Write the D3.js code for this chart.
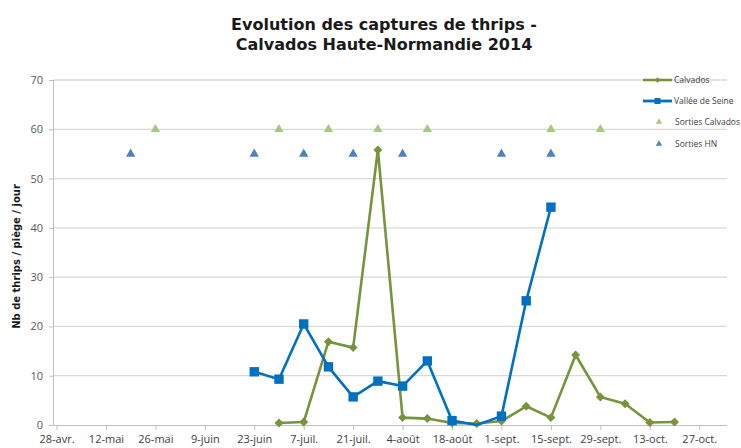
<!DOCTYPE html>
<html><head><meta charset="utf-8">
<script src="https://cdn.jsdelivr.net/npm/d3@7/dist/d3.min.js"></script>
<style>body{margin:0;background:#fff;} svg{display:block;}</style>
</head><body>
<script>
// ---- data ----
const tickDates = ["2014-04-28","2014-05-12","2014-05-26","2014-06-09","2014-06-23","2014-07-07","2014-07-21","2014-08-04","2014-08-18","2014-09-01","2014-09-15","2014-09-29","2014-10-13","2014-10-27"];
const tickLabels = ["28-avr.","12-mai","26-mai","9-juin","23-juin","7-juil.","21-juil.","4-août","18-août","1-sept.","15-sept.","29-sept.","13-oct.","27-oct."];
const yTicks = [0,10,20,30,40,50,60,70];

const calvadosDates = ["2014-06-30","2014-07-07","2014-07-14","2014-07-21","2014-07-28","2014-08-04","2014-08-11","2014-08-18","2014-08-25","2014-09-01","2014-09-08","2014-09-15","2014-09-22","2014-09-29","2014-10-06","2014-10-13","2014-10-20"];
const calvadosValues = [0.4,0.6,16.9,15.7,55.8,1.5,1.3,0.4,0.3,0.8,3.8,1.5,14.2,5.7,4.3,0.5,0.6];

const seineDates = ["2014-06-23","2014-06-30","2014-07-07","2014-07-14","2014-07-21","2014-07-28","2014-08-04","2014-08-11","2014-08-18","2014-08-25","2014-09-01","2014-09-08","2014-09-15"];
const seineValues = [10.8,9.3,20.5,11.8,5.7,8.9,7.9,13.0,0.9,0,1.8,25.2,44.2];

const sortiesCalvadosDates = ["2014-05-26","2014-06-30","2014-07-14","2014-07-28","2014-08-11","2014-09-15","2014-09-29"];
const sortiesCalvadosValues = [60,60,60,60,60,60,60];

const sortiesHNDates = ["2014-05-19","2014-06-23","2014-07-07","2014-07-21","2014-08-04","2014-09-01","2014-09-15"];
const sortiesHNValues = [55,55,55,55,55,55,55];

const titleLines = ["Evolution des captures de thrips -","Calvados Haute-Normandie 2014"];
const yTitle = "Nb de thrips / piège / jour";
const legendNames = ["Calvados","Vallée de Seine","Sorties Calvados","Sorties HN"];

// ---- drawing ----
const W = 741, H = 448;
const parse = d3.utcParse("%Y-%m-%d");
const cGreen = "#77933C", cBlue = "#0070C0", cLightGreen = "#A9C77E", cTriBlue = "#4F81BD";

const svg = d3.select("body").append("svg").attr("width", W).attr("height", H);

const plotLeft = 54, plotRight = 727, plotTop = 80, plotBottom = 425;
const x = d3.scaleUtc().domain([parse("2014-04-28"), parse("2014-11-04")]).range([56.5, 727.5]);
const y = d3.scaleLinear().domain([0,70]).range([plotBottom, plotTop]);

// gridlines
svg.append("g").selectAll("line").data(yTicks.filter(v => v > 0)).join("line")
  .attr("x1", plotLeft).attr("x2", plotRight)
  .attr("y1", d => y(d)).attr("y2", d => y(d))
  .attr("stroke", "#d9d9d9").attr("stroke-width", 1.3);

// y axis
const yAxis = d3.axisLeft(y).tickValues(yTicks).tickSize(5).tickPadding(6).tickFormat(d3.format("d"));
const gy = svg.append("g").attr("transform", `translate(${plotLeft},0)`).call(yAxis);
gy.select(".domain").attr("stroke", "#bfbfbf").attr("d", `M-0.5,${plotTop}V${plotBottom}`);
gy.selectAll(".tick line").attr("stroke", "#bfbfbf");
gy.selectAll(".tick text").attr("fill", "#595959").style("font-family", "'Open Sans', sans-serif").style("font-size", "11px");

// x axis
const xAxis = d3.axisBottom(x).tickValues(tickDates.map(parse)).tickSize(5).tickPadding(5)
  .tickFormat((d,i) => tickLabels[i]);
const gx = svg.append("g").attr("transform", `translate(0,${plotBottom})`).call(xAxis);
gx.select(".domain").attr("stroke", "#bfbfbf").attr("d", `M${plotLeft},0.5H${plotRight}`);
gx.selectAll(".tick line").attr("stroke", "#bfbfbf");
gx.selectAll(".tick text").attr("fill", "#404040").style("font-family", "'Open Sans', sans-serif").style("font-size", "11px");

// series
const calv = calvadosDates.map((d,i) => ({d: parse(d), v: calvadosValues[i]}));
const seine = seineDates.map((d,i) => ({d: parse(d), v: seineValues[i]}));
const line = d3.line().x(p => x(p.d)).y(p => y(p.v));

const diamond = d3.symbol().type(d3.symbolSquare).size(40);
const square = d3.symbol().type(d3.symbolSquare).size(88);
const tri = d3.symbol().type(d3.symbolTriangle).size(38);

// sorties triangles
svg.append("g").selectAll("path").data(sortiesCalvadosDates.map((d,i)=>({d:parse(d), v:sortiesCalvadosValues[i]}))).join("path")
  .attr("d", tri).attr("fill", cLightGreen)
  .attr("transform", p => `translate(${x(p.d)},${y(p.v)})`);
svg.append("g").selectAll("path").data(sortiesHNDates.map((d,i)=>({d:parse(d), v:sortiesHNValues[i]}))).join("path")
  .attr("d", tri).attr("fill", cTriBlue)
  .attr("transform", p => `translate(${x(p.d)},${y(p.v)})`);

// Calvados
svg.append("path").datum(calv).attr("d", line).attr("fill","none").attr("stroke", cGreen).attr("stroke-width", 2.6).attr("stroke-linejoin","round");
svg.append("g").selectAll("path").data(calv).join("path")
  .attr("d", diamond).attr("fill", cGreen)
  .attr("transform", p => `translate(${x(p.d)},${y(p.v)}) rotate(45)`);

// Vallée de Seine
svg.append("path").datum(seine).attr("d", line).attr("fill","none").attr("stroke", cBlue).attr("stroke-width", 2.6).attr("stroke-linejoin","round");
svg.append("g").selectAll("path").data(seine.filter(p => p.v > 0)).join("path")
  .attr("d", square).attr("fill", cBlue)
  .attr("transform", p => `translate(${x(p.d)},${y(p.v)})`);

// title
svg.append("text").attr("x", 384).attr("y", 30).attr("text-anchor","middle")
  .style("font-family","'DejaVu Sans', sans-serif").style("font-weight","bold").style("font-size","16px").attr("fill","#1a1a1a")
  .selectAll("tspan").data(titleLines).join("tspan")
  .attr("x", 384).attr("dy", (d,i) => i === 0 ? 0 : 20).text(d => d);

// y title
svg.append("text").attr("transform", `translate(20,${(plotTop+plotBottom)/2 + 4}) rotate(-90)`)
  .attr("text-anchor","middle").style("font-family","'DejaVu Sans', sans-serif").style("font-weight","bold")
  .style("font-size","10px").attr("fill","#1a1a1a").text(yTitle);

// legend
const lg = svg.append("g").style("font-family","'Open Sans', sans-serif").style("font-size","8.5px");
const legY = [80, 101, 122, 144];
lg.append("line").attr("x1",643).attr("x2",672).attr("y1",legY[0]).attr("y2",legY[0]).attr("stroke",cGreen).attr("stroke-width",2.6);
lg.append("path").attr("d", d3.symbol().type(d3.symbolSquare).size(14)).attr("fill",cGreen).attr("transform",`translate(657.5,${legY[0]}) rotate(45)`);
lg.append("line").attr("x1",643).attr("x2",672).attr("y1",legY[1]).attr("y2",legY[1]).attr("stroke",cBlue).attr("stroke-width",2.8);
lg.append("path").attr("d", d3.symbol().type(d3.symbolSquare).size(36)).attr("fill",cBlue).attr("transform",`translate(657.5,${legY[1]})`);
lg.append("path").attr("d", d3.symbol().type(d3.symbolTriangle).size(18)).attr("fill",cLightGreen).attr("transform",`translate(659,${legY[2]})`);
lg.append("path").attr("d", d3.symbol().type(d3.symbolTriangle).size(18)).attr("fill",cTriBlue).attr("transform",`translate(659,${legY[3]})`);
lg.selectAll("text").data(legendNames).join("text")
  .attr("x", (d,i) => i < 2 ? 674 : 675).attr("y", (d,i) => legY[i] + 3).attr("fill","#404040").text(d => d);
</script>
</body></html>
